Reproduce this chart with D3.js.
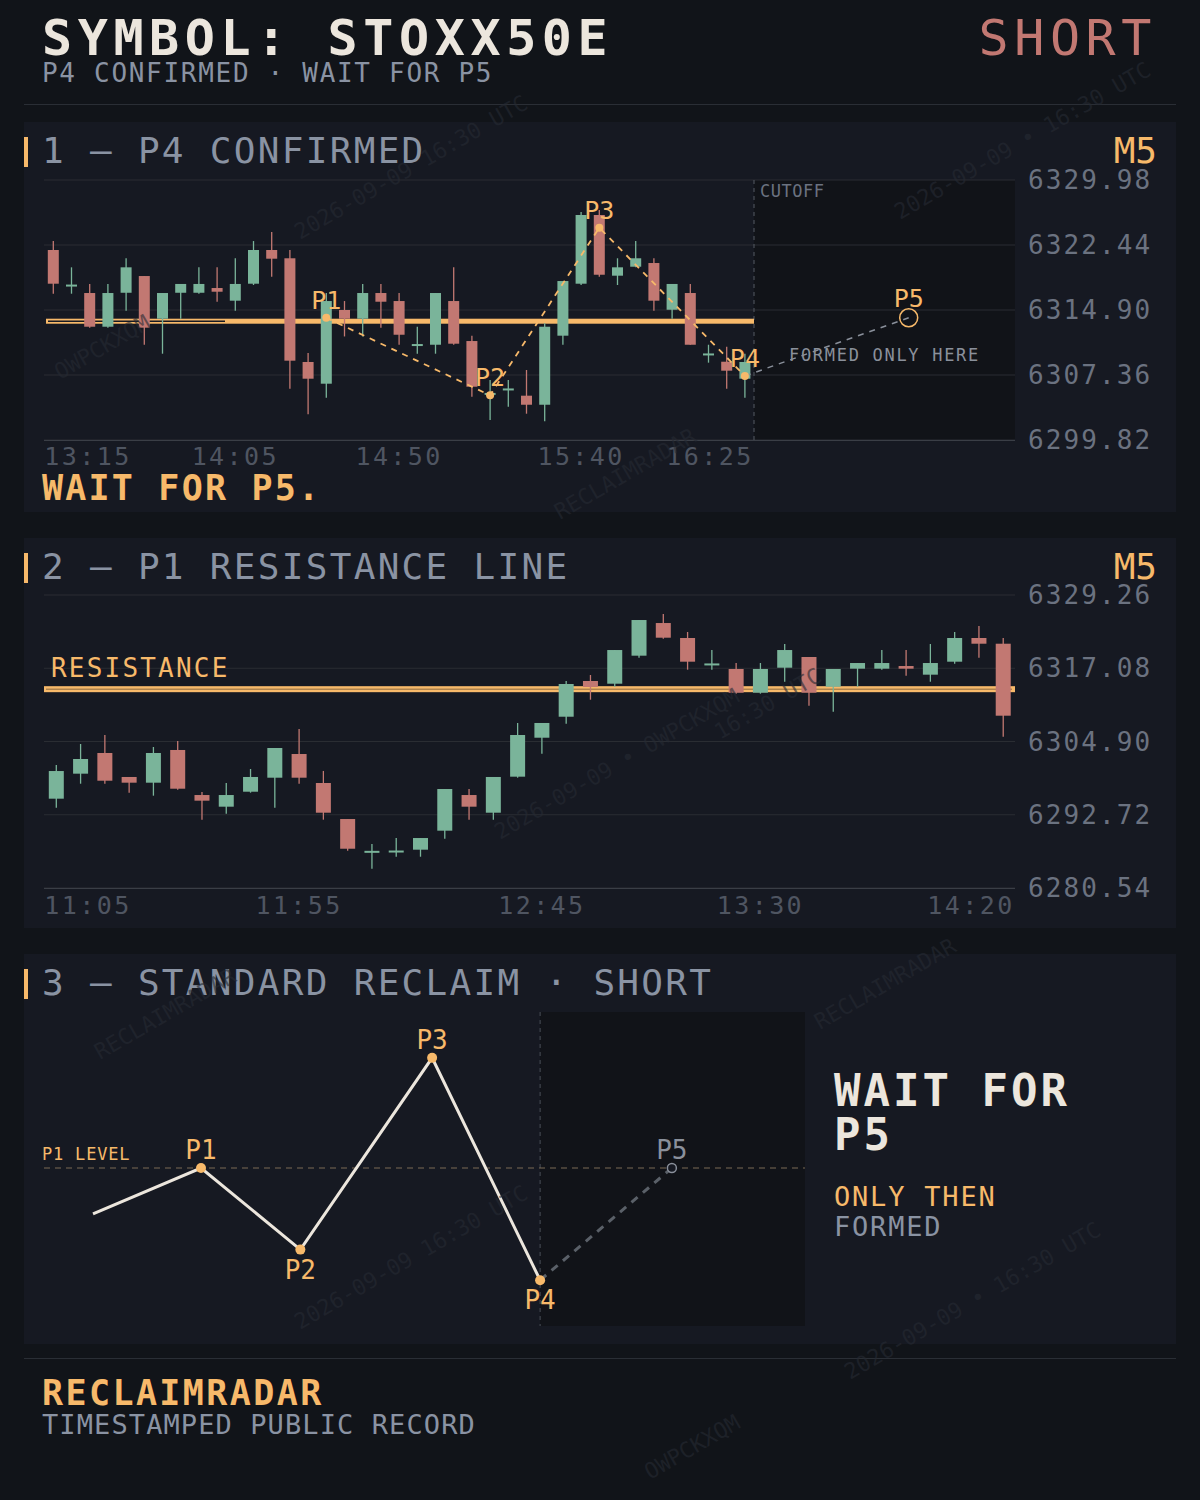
<!DOCTYPE html>
<html>
<head>
<meta charset="utf-8">
<style>
  body { margin: 0; background: #111419; }
  svg text { font-family: "DejaVu Sans Mono", monospace; }
</style>
<script src="https://d3js.org/d3.v7.min.js"></script>
</head>
<body>
<svg width="1200" height="1500"></svg>
<script>
// panel 1: P4 confirmed (M5, from 13:15)
var p1Start = "13:15";
var p1Open  = [6321.86,6317.8,6316.87,6312.96,6316.9,6318.84,6313.89,6316.9,6316.9,6317.45,6315.98,6317.95,6321.86,6320.9,6308.87,6306.35,6314.9,6313.89,6316.87,6315.94,6310.87,6310.87,6315.94,6311.3,6305.2,6305.74,6304.96,6303.91,6311.92,6317.95,6325.92,6318.88,6319.92,6320.35,6314.93,6316.87,6309.8,6308.9,6306.93];
var p1High  = [6322.9,6319.85,6317.92,6317.92,6320.9,6318.84,6316.87,6317.92,6319.85,6319.85,6320.9,6322.9,6323.95,6321.86,6309.9,6316.87,6315.94,6317.92,6317.92,6316.87,6312.96,6316.87,6319.85,6311.92,6306.78,6306.78,6307.94,6313.36,6318.26,6326.27,6326.5,6320.9,6322.9,6320.9,6317.92,6317.92,6310.87,6310.64,6309.83];
var p1Low   = [6316.79,6316.79,6312.85,6312.85,6314.82,6310.87,6309.83,6313.89,6316.79,6315.86,6314.82,6317.8,6318.76,6305.77,6302.8,6304.73,6311.83,6311.83,6312.85,6310.87,6309.83,6309.83,6310.87,6304.84,6302.14,6303.68,6302.87,6302.0,6310.87,6317.8,6318.76,6317.8,6319.85,6314.82,6313.89,6310.87,6308.79,6305.77,6304.73];
var p1Close = [6317.95,6317.85,6312.96,6316.87,6319.85,6312.85,6316.87,6317.92,6317.92,6317.02,6317.92,6321.86,6320.85,6309.02,6306.93,6315.94,6313.89,6316.87,6315.86,6312.03,6310.95,6316.87,6310.99,6306.0,6305.28,6305.8,6303.91,6312.96,6318.26,6325.92,6318.99,6319.85,6320.9,6315.98,6317.92,6310.87,6309.86,6307.86,6308.87];
var p1Ticks = [6329.98,6322.44,6314.90,6307.36,6299.82];
var p1TimeIdx = [0,10,19,29,38];
var p1Pivots = [{n:"P1",i:15,v:6314.0},{n:"P2",i:24,v:6305.0},{n:"P3",i:30,v:6324.45},{n:"P4",i:38,v:6307.25}];
var p1P5 = {n:"P5",i:47,v:6314.0};
var resistance = 6313.6;

// panel 2: P1 resistance line (M5, from 11:05)
var p2Start = "11:05";
var p2Open  = [6295.39,6299.55,6302.99,6299.0,6298.05,6303.49,6296.0,6294.06,6296.55,6298.88,6302.82,6298.0,6292.01,6286.65,6286.7,6286.91,6290.07,6296.0,6293.06,6299.05,6305.53,6309.02,6314.96,6314.51,6319.17,6324.6,6322.11,6317.8,6316.96,6313.01,6317.17,6318.95,6314.01,6317.01,6317.01,6317.45,6316.01,6318.17,6322.11,6321.16];
var p2High  = [6300.99,6304.48,6305.98,6299.0,6303.99,6304.98,6296.5,6298.0,6300.33,6303.82,6306.98,6300.0,6292.01,6287.86,6288.85,6288.85,6297.0,6297.0,6299.0,6307.98,6307.98,6314.96,6315.96,6320.11,6325.1,6326.1,6323.11,6320.11,6317.95,6317.95,6321.11,6318.95,6316.96,6317.95,6320.11,6320.11,6321.11,6323.11,6324.11,6322.11];
var p2Low   = [6293.89,6297.88,6297.88,6296.39,6295.89,6296.89,6291.9,6292.89,6296.39,6293.89,6297.88,6291.9,6286.74,6283.75,6285.74,6285.74,6288.74,6291.9,6291.9,6298.88,6302.87,6307.86,6311.85,6314.01,6318.83,6321.99,6316.84,6316.84,6312.85,6312.85,6314.84,6310.85,6309.86,6314.01,6316.84,6315.84,6314.84,6317.84,6318.83,6305.7];
var p2Close = [6299.99,6301.99,6298.38,6298.05,6302.99,6297.05,6295.06,6296.0,6299.0,6303.82,6298.88,6293.06,6287.07,6286.72,6286.77,6288.85,6297.0,6294.06,6299.0,6305.98,6307.98,6314.46,6313.96,6320.11,6325.1,6322.16,6318.17,6317.88,6313.01,6316.96,6320.11,6313.01,6316.96,6317.95,6317.95,6317.01,6317.95,6322.11,6321.16,6309.19];
var p2Ticks = [6329.26,6317.08,6304.90,6292.72,6280.54];
var p2TimeIdx = [0,10,20,29,39];

// panel 3: schematic
var schemNames = ["", "P1", "P2", "P3", "P4", "P5"];
var schemX = [0, 1, 1.92, 3.14, 4.14, 5.36];
var schemY = [-0.45, 0, -0.8, 1.08, -1.1, 0];

var RED = "#c27872", GREEN = "#7ab49a", ORANGE = "#f7b96a", GRAY = "#6b7280", LIGHT = "#8a93a3", WHITE = "#ece6dd";

var svg = d3.select("svg");
svg.append("rect").attr("width", 1200).attr("height", 1500).attr("fill", "#111419");

function txt(x, y, s, size, fill, ls, anchor) {
  return svg.append("text").attr("x", x).attr("y", y).attr("fill", fill).attr("text-anchor", anchor || "start")
    .style("font-size", size + "px").style("letter-spacing", (ls || 0) + "px").text(s);
}

// header
txt(42, 55, "SYMBOL: STOXX50E", 50, WHITE, 5.6).style("font-weight", "bold");
txt(42, 82, "P4 CONFIRMED · WAIT FOR P5", 26, LIGHT, 1.7);
txt(1157, 55, "SHORT", 50, RED, 5.6, "end");
svg.append("line").attr("x1", 24).attr("x2", 1176).attr("y1", 104.5).attr("y2", 104.5).attr("stroke", "#2a2e35");

function panelFrame(top, height, title, tf) {
  svg.append("rect").attr("x", 24).attr("y", top).attr("width", 1152).attr("height", height).attr("fill", "#161922");
  svg.append("rect").attr("x", 24).attr("y", top + 15).attr("width", 4).attr("height", 30).attr("fill", ORANGE);
  txt(42, top + 41, title, 36, LIGHT, 2.3);
  if (tf) txt(1157, top + 41, tf, 36, ORANGE, 0, "end");
}

// watermarks
var wm = svg.append("g");
function watermarks() {
  [[60,380,"OWPCKXQM"],[300,240,"2026-09-09 16:30 UTC"],[560,520,"RECLAIMRADAR"],[900,220,"2026-09-09 • 16:30 UTC"],[720,740,"16:30 UTC"],
   [500,840,"2026-09-09 • OWPCKXQM"],[100,1060,"RECLAIMRADAR"],[300,1330,"2026-09-09 16:30 UTC"],[820,1030,"RECLAIMRADAR"],[850,1380,"2026-09-09 • 16:30 UTC"],[650,1480,"OWPCKXQM"]]
    .forEach(function (w) {
      svg.append("text").attr("transform", "translate(" + w[0] + "," + w[1] + ") rotate(-30)")
        .attr("fill", "#262a33").attr("opacity", 0.6).style("font-size", "22px").text(w[2]);
    });
}

function addTime(start, i) {
  var p = start.split(":"), m = +p[0] * 60 + +p[1] + 5 * i;
  return d3.format("02")(Math.floor(m / 60)) + ":" + d3.format("02")(m % 60);
}

function candles(g, x, y, o, h, l, c, w) {
  var idx = d3.range(o.length);
  g.selectAll(".wick").data(idx).enter().append("line")
    .attr("x1", function (i) { return x(i); }).attr("x2", function (i) { return x(i); })
    .attr("y1", function (i) { return y(h[i]); }).attr("y2", function (i) { return y(l[i]); })
    .attr("stroke", function (i) { return c[i] >= o[i] ? GREEN : RED; }).attr("stroke-width", 1.3);
  g.selectAll(".body").data(idx).enter().append("rect")
    .attr("x", function (i) { return x(i) - w / 2; }).attr("width", w)
    .attr("y", function (i) { return y(Math.max(o[i], c[i])); })
    .attr("height", function (i) { return Math.max(2, Math.abs(y(o[i]) - y(c[i]))); })
    .attr("fill", function (i) { return c[i] >= o[i] ? GREEN : RED; });
}

function priceAxis(y, ticks, x0, x1) {
  ticks.forEach(function (t) {
    svg.append("line").attr("x1", x0).attr("x2", x1).attr("y1", y(t)).attr("y2", y(t)).attr("stroke", "#2a2d33");
    txt(1028, y(t) + 9, t.toFixed(2), 26, GRAY, 2.1);
  });
}

function timeAxis(x, idx, start, yPos, lo, hi) {
  idx.forEach(function (i) {
    var cx = Math.min(Math.max(x(i), lo + 44), hi - 44);
    txt(cx, yPos, addTime(start, i), 25, "#4f5561", 2.4, "middle");
  });
}

// ---------- panel 1 ----------
panelFrame(122, 390, "1 – P4 CONFIRMED", "M5");
var x1 = d3.scaleLinear().domain([0, 1]).range([53.3, 71.5]);
var y1 = d3.scaleLinear().domain([p1Ticks[4], p1Ticks[0]]).range([440, 180]);
svg.append("rect").attr("x", x1(38.5)).attr("y", 180).attr("width", 1015 - x1(38.5)).attr("height", 260).attr("fill", "#111318");
priceAxis(y1, p1Ticks, 44, 1015);
svg.append("line").attr("x1", x1(38.5)).attr("x2", x1(38.5)).attr("y1", 180).attr("y2", 440).attr("stroke", "#555a63").attr("stroke-dasharray", "4,4");
txt(760, 197, "CUTOFF", 17, GRAY, 0.5);
var g1 = svg.append("g");
g1.append("rect").attr("x", 46).attr("y", y1(resistance) - 2.5).attr("width", x1(38.5) - 46).attr("height", 5).attr("fill", ORANGE);
g1.append("line").attr("x1", 48).attr("x2", 225).attr("y1", y1(resistance)).attr("y2", y1(resistance)).attr("stroke", "#161922").attr("stroke-width", 1.5);
candles(g1, x1, y1, p1Open, p1High, p1Low, p1Close, 11);
g1.append("path").datum(p1Pivots).attr("fill", "none").attr("stroke", ORANGE).attr("stroke-width", 1.8).attr("stroke-dasharray", "6,6")
  .attr("d", d3.line().x(function (d) { return x1(d.i); }).y(function (d) { return y1(d.v); }));
g1.append("line").attr("x1", x1(38)).attr("y1", y1(p1Pivots[3].v)).attr("x2", x1(p1P5.i)).attr("y2", y1(p1P5.v))
  .attr("stroke", "#8a909b").attr("stroke-width", 1.5).attr("stroke-dasharray", "6,6");
p1Pivots.forEach(function (d) {
  g1.append("circle").attr("cx", x1(d.i)).attr("cy", y1(d.v)).attr("r", 4).attr("fill", ORANGE);
  g1.append("text").attr("x", x1(d.i)).attr("y", y1(d.v) - 9).attr("text-anchor", "middle").attr("fill", ORANGE)
    .style("font-size", "25px").text(d.n);
});
g1.append("circle").attr("cx", x1(p1P5.i)).attr("cy", y1(p1P5.v)).attr("r", 9).attr("fill", "none").attr("stroke", ORANGE).attr("stroke-width", 1.5);
g1.append("text").attr("x", x1(p1P5.i)).attr("y", y1(p1P5.v) - 11).attr("text-anchor", "middle").attr("fill", ORANGE).style("font-size", "25px").text("P5");
txt(789, 361, "FORMED ONLY HERE", 17, "#8a909b", 1.7);
svg.append("line").attr("x1", 44).attr("x2", 1015).attr("y1", 440.5).attr("y2", 440.5).attr("stroke", "#3a3e46");
timeAxis(x1, p1TimeIdx, p1Start, 465, 44, x1(38.5));
txt(42, 500, "WAIT FOR P5.", 35, ORANGE, 2.2).style("font-weight", "bold");

// ---------- panel 2 ----------
panelFrame(538, 390, "2 – P1 RESISTANCE LINE", "M5");
var x2 = d3.scaleLinear().domain([0, 1]).range([56.3, 80.58]);
var y2 = d3.scaleLinear().domain([p2Ticks[4], p2Ticks[0]]).range([888, 595]);
priceAxis(y2, p2Ticks, 44, 1015);
var g2 = svg.append("g");
g2.append("rect").attr("x", 44).attr("y", y2(resistance) - 3).attr("width", 971).attr("height", 6).attr("fill", ORANGE);
g2.append("line").attr("x1", 46).attr("x2", 1012).attr("y1", y2(resistance)).attr("y2", y2(resistance)).attr("stroke", "#8a6a40").attr("stroke-width", 1);
txt(51, 677, "RESISTANCE", 26, ORANGE, 2.2);
candles(g2, x2, y2, p2Open, p2High, p2Low, p2Close, 15);
svg.append("line").attr("x1", 44).attr("x2", 1015).attr("y1", 888.5).attr("y2", 888.5).attr("stroke", "#3a3e46");
timeAxis(x2, p2TimeIdx, p2Start, 914, 44, 1015);

// ---------- panel 3 ----------
panelFrame(954, 390, "3 – STANDARD RECLAIM · SHORT", null);
var x3 = d3.scaleLinear().domain([0, 1]).range([93, 201]);
var y3 = d3.scaleLinear().domain([0, 1]).range([1168, 1066]);
svg.append("rect").attr("x", x3(schemX[4])).attr("y", 1012).attr("width", 805 - x3(schemX[4])).attr("height", 314).attr("fill", "#111318");
svg.append("line").attr("x1", x3(schemX[4])).attr("x2", x3(schemX[4])).attr("y1", 1012).attr("y2", 1326).attr("stroke", "#4a4f58").attr("stroke-dasharray", "4,4");
svg.append("line").attr("x1", 44).attr("x2", 805).attr("y1", y3(0)).attr("y2", y3(0)).attr("stroke", "#7a6a55").attr("stroke-dasharray", "6,5");
txt(42, 1160, "P1 LEVEL", 17, ORANGE, 0.8);
var pts = d3.range(schemX.length).map(function (i) { return { n: schemNames[i], x: schemX[i], y: schemY[i] }; });
svg.append("path").datum(pts.slice(0, 5)).attr("fill", "none").attr("stroke", WHITE).attr("stroke-width", 3)
  .attr("d", d3.line().x(function (d) { return x3(d.x); }).y(function (d) { return y3(d.y); }));
svg.append("path").datum(pts.slice(4)).attr("fill", "none").attr("stroke", "#5a6068").attr("stroke-width", 3).attr("stroke-dasharray", "8,7")
  .attr("d", d3.line().x(function (d) { return x3(d.x); }).y(function (d) { return y3(d.y); }));
pts.slice(1).forEach(function (d) {
  var below = d.n === "P2" || d.n === "P4";
  if (d.n === "P5") {
    svg.append("circle").attr("cx", x3(d.x)).attr("cy", y3(d.y)).attr("r", 4.5).attr("fill", "#161922").attr("stroke", "#8a909b").attr("stroke-width", 1.5);
  } else {
    svg.append("circle").attr("cx", x3(d.x)).attr("cy", y3(d.y)).attr("r", 5).attr("fill", ORANGE);
  }
  txt(x3(d.x), y3(d.y) + (below ? 29 : -9), d.n, 26, d.n === "P5" ? "#8a909b" : ORANGE, 0, "middle");
});
txt(834, 1106, "WAIT FOR", 44, WHITE, 3).style("font-weight", "bold");
txt(834, 1150, "P5", 44, WHITE, 3).style("font-weight", "bold");
txt(834, 1206, "ONLY THEN", 27, ORANGE, 1.8);
txt(834, 1236, "FORMED", 27, LIGHT, 1.8);

// footer
svg.append("line").attr("x1", 24).attr("x2", 1176).attr("y1", 1358.5).attr("y2", 1358.5).attr("stroke", "#2a2e35");
txt(42, 1405, "RECLAIMRADAR", 35, ORANGE, 2.4).style("font-weight", "bold");
txt(42, 1434, "TIMESTAMPED PUBLIC RECORD", 27, LIGHT, 1.1);

watermarks();
</script>
</body>
</html>
